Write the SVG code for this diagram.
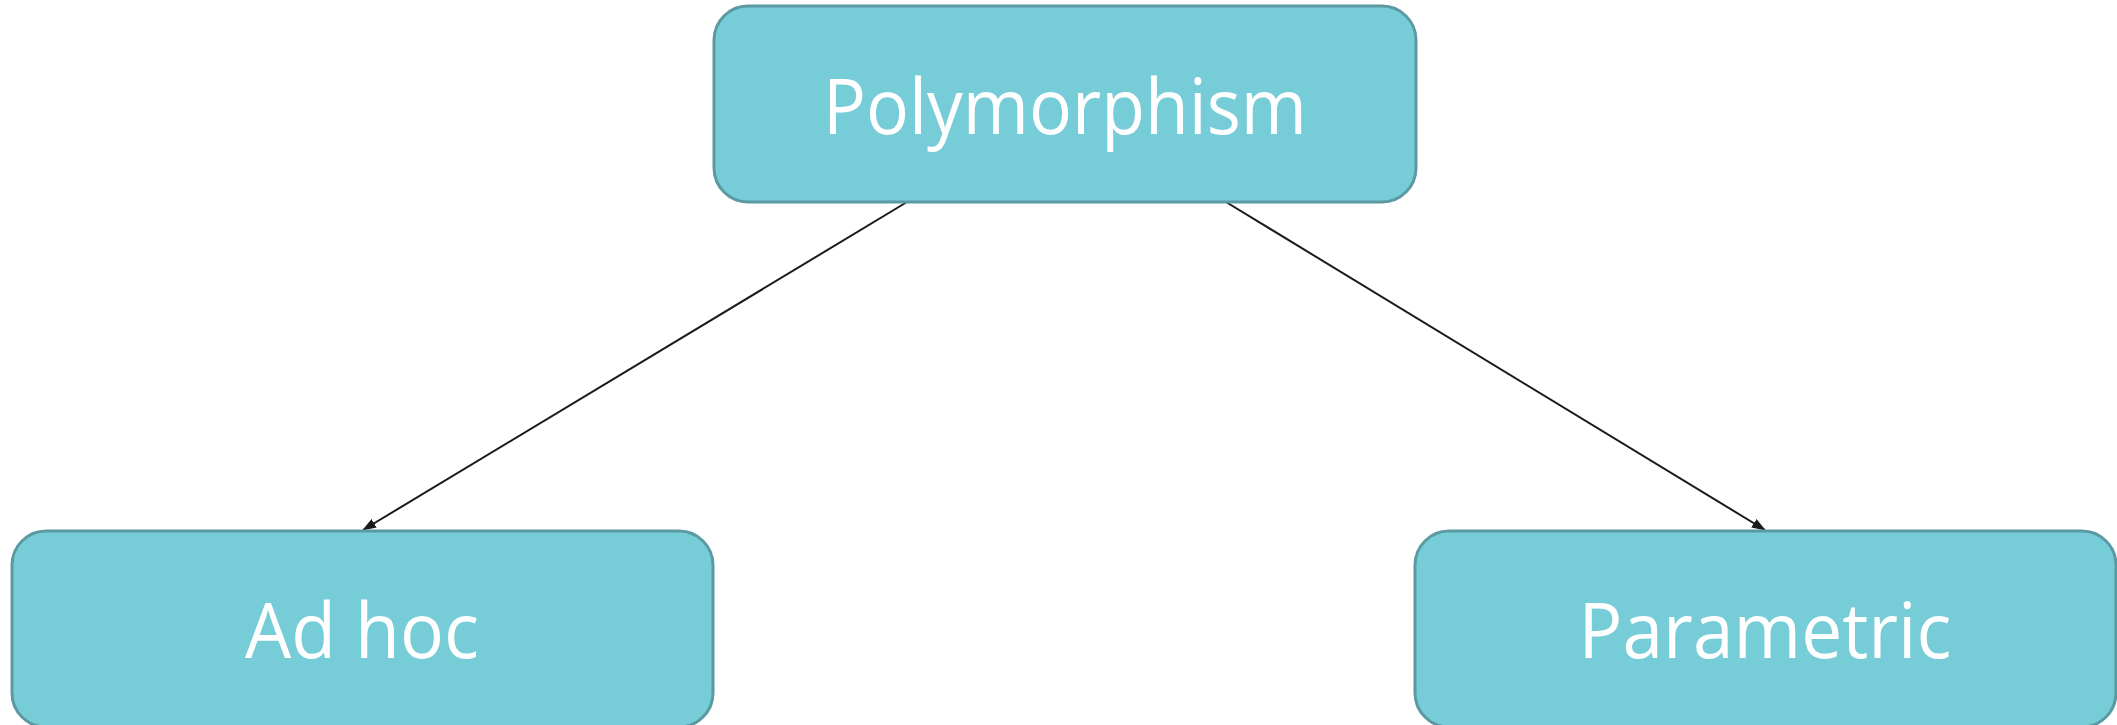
<svg xmlns="http://www.w3.org/2000/svg" width="2117" height="725" viewBox="0 0 2117 725">
<style>
.node rect{fill:#76ccd7;stroke:#5b9aa2;stroke-width:3}
.node text{fill:#ffffff;font-family:"Open Sans","Noto Sans",sans-serif;font-size:76px;text-anchor:middle}
.conn line{stroke:#1a1a1a;stroke-width:2;marker-end:url(#arr)}
</style>
<defs>
<marker id="arr" markerWidth="14" markerHeight="10" refX="13" refY="5" orient="auto" markerUnits="userSpaceOnUse"><path d="M0,0 L14,5 L0,10 Z" fill="#1a1a1a"/></marker>
</defs>
<rect width="2117" height="725" fill="#ffffff"/>
<g id="connectors" class="conn">
<line x1="907" y1="202" x2="363" y2="530"/>
<line x1="1226" y1="202" x2="1765" y2="530"/>
</g>
<g id="polymorphism" class="node">
<rect x="714" y="6" width="702" height="196" rx="34"/>
<text x="1065" y="134" textLength="484" lengthAdjust="spacingAndGlyphs">Polymorphism</text>
</g>
<g id="adhoc" class="node">
<rect x="12" y="531" width="701" height="196" rx="34"/>
<text x="362" y="658" textLength="234" lengthAdjust="spacingAndGlyphs">Ad hoc</text>
</g>
<g id="parametric" class="node">
<rect x="1415" y="531" width="701" height="196" rx="34"/>
<text x="1765" y="658" textLength="373" lengthAdjust="spacingAndGlyphs">Parametric</text>
</g>
</svg>
